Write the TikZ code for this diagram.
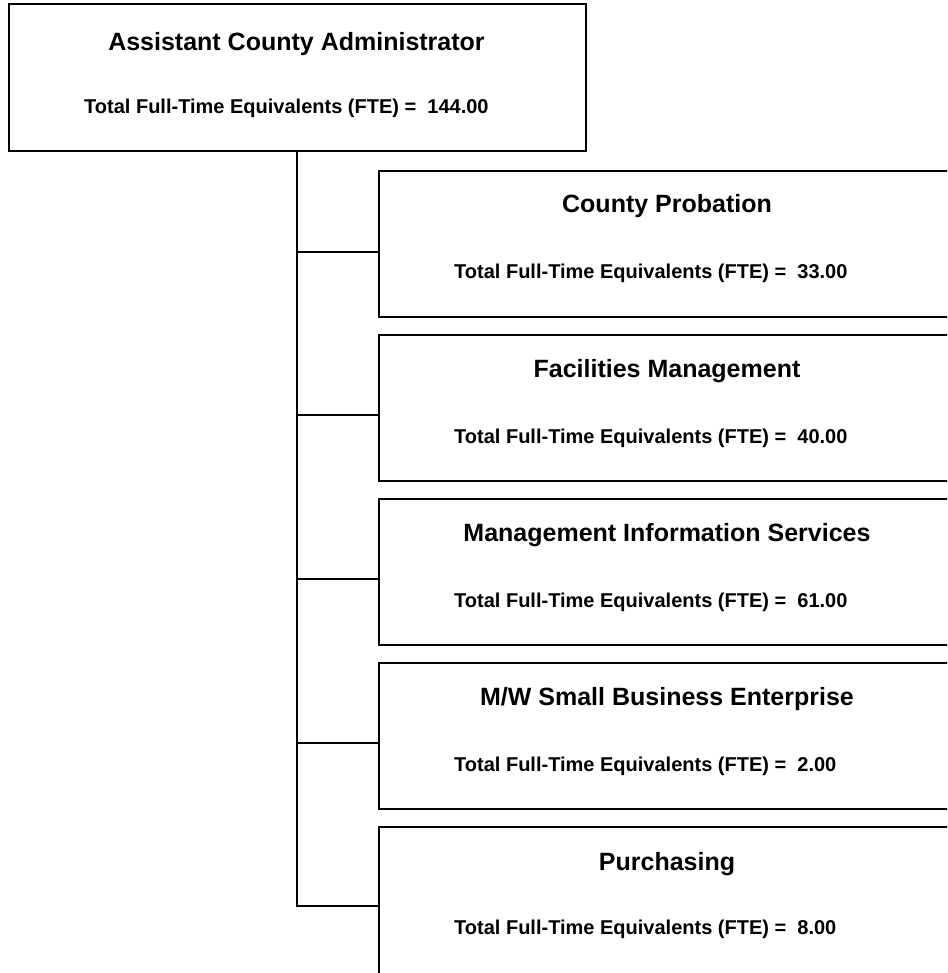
\documentclass[tikz,border=0pt]{standalone}
\usepackage{fontspec}
\setmainfont{Liberation Sans}
\begin{document}
\begin{tikzpicture}[x=1pt,y=-1pt,
  orgbox/.style={draw=black,line width=2.2pt,rectangle,anchor=north west,inner sep=0pt,minimum width=578pt,minimum height=146pt},
  titletxt/.style={anchor=base,inner sep=0pt,font=\bfseries\fontsize{25}{30}\selectfont},
  ftetxt/.style={anchor=base west,inner sep=0pt,font=\bfseries\fontsize{20}{24}\selectfont},
  link/.style={draw=black,line width=2.2pt}]
\useasboundingbox (0,0) rectangle (947,973);
\clip (0,0) rectangle (947,973);
\fill[white] (0,0) rectangle (947,973);
% top box
\node[orgbox,minimum width=577pt,minimum height=147pt] (top) at (8,3) {};
\node[titletxt] (toptitle) at (296.5,51) {Assistant County Administrator};
\node[ftetxt] (topfte) at (84,114) {Total Full-Time Equivalents (FTE) =\ \ 144.00};
% child boxes
\node[orgbox] (b1) at (378,170) {};
\node[orgbox] (b2) at (378,334) {};
\node[orgbox] (b3) at (378,498) {};
\node[orgbox] (b4) at (378,662) {};
\node[orgbox,minimum height=170pt] (b5) at (378,826) {};
\node[titletxt] (t1) at (667,213) {County Probation};
\node[titletxt] (t2) at (667,377) {Facilities Management};
\node[titletxt] (t3) at (667,541) {Management Information Services};
\node[titletxt] (t4) at (667,705) {M/W Small Business Enterprise};
\node[titletxt] (t5) at (667,870) {Purchasing};
\node[ftetxt] (f1) at (454,279) {Total Full-Time Equivalents (FTE) =\ \ 33.00};
\node[ftetxt] (f2) at (454,443) {Total Full-Time Equivalents (FTE) =\ \ 40.00};
\node[ftetxt] (f3) at (454,607) {Total Full-Time Equivalents (FTE) =\ \ 61.00};
\node[ftetxt] (f4) at (454,771) {Total Full-Time Equivalents (FTE) =\ \ 2.00};
\node[ftetxt] (f5) at (454,934) {Total Full-Time Equivalents (FTE) =\ \ 8.00};
% junctions
\coordinate (j1) at (297,252);
\coordinate (j2) at (297,415);
\coordinate (j3) at (297,579);
\coordinate (j4) at (297,743);
\coordinate (j5) at (297,906);
\draw[link] (top.south -| j1) -- (j5) -- (j5 -| b5.west);
\draw[link] (j1) -- (j1 -| b1.west);
\draw[link] (j2) -- (j2 -| b2.west);
\draw[link] (j3) -- (j3 -| b3.west);
\draw[link] (j4) -- (j4 -| b4.west);
\end{tikzpicture}
\end{document}
